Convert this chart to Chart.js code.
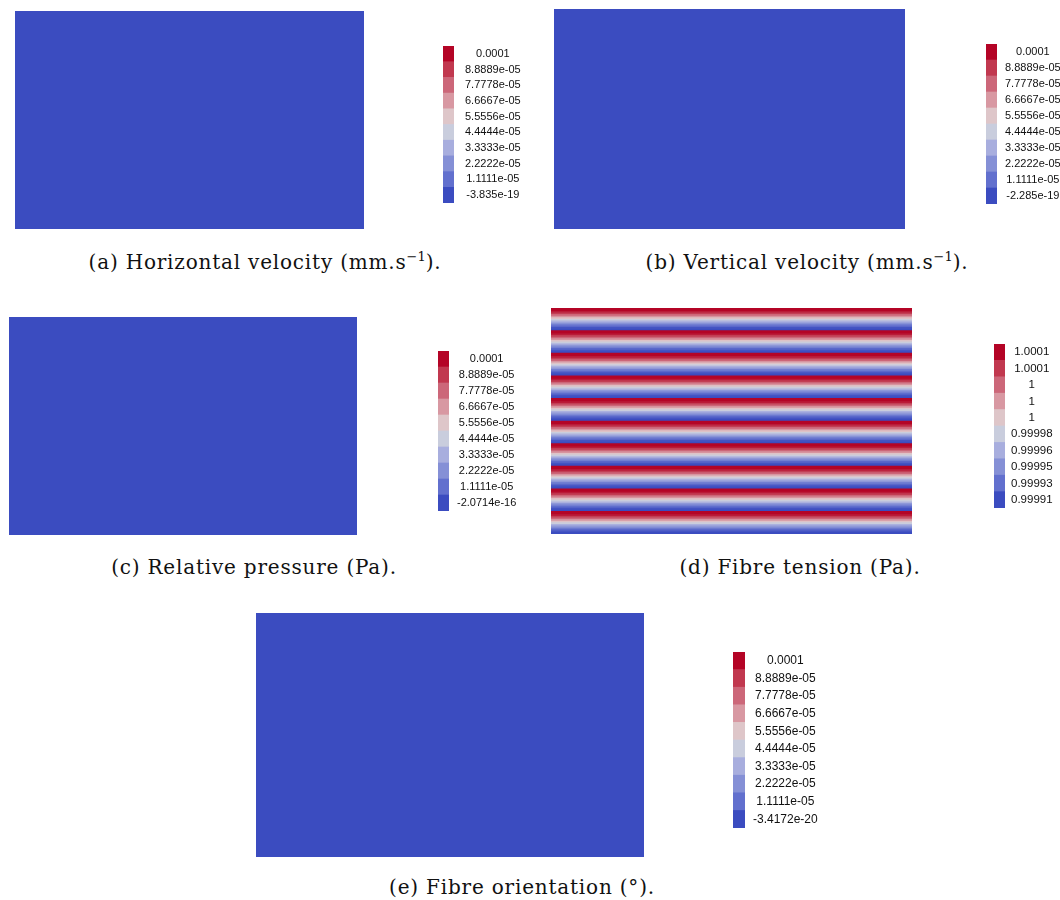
<!DOCTYPE html>
<html>
<head>
<meta charset="utf-8">
<script src="https://cdn.jsdelivr.net/npm/chart.js@4.4.1/dist/chart.umd.min.js"></script>
<style>
  html, body { margin: 0; padding: 0; background: #fff; overflow: hidden; }
  #page { position: relative; width: 1060px; height: 900px; background: #fff; }
  canvas { position: absolute; }
  .caption {
    position: absolute;
    transform: translateX(-50%);
    white-space: nowrap;
    font-family: "DejaVu Serif", "Liberation Serif", serif;
    font-size: 20px;
    letter-spacing: 0.8px;
    line-height: 24px;
    color: #111;
  }
  .caption sup { font-size: 13px; vertical-align: 8px; line-height: 0; letter-spacing: 0; }
</style>
</head>
<body>
<div id="page">
  <canvas id="fieldA" width="349" height="218" style="left:15px;top:11px"></canvas>
  <canvas id="barA" width="90" height="157" style="left:443px;top:46px"></canvas>
  <div class="caption" style="left:265px;top:250px">(a) Horizontal velocity (mm.s<sup>−1</sup>).</div>

  <canvas id="fieldB" width="351" height="220" style="left:554px;top:9px"></canvas>
  <canvas id="barB" width="74" height="160" style="left:986px;top:44px"></canvas>
  <div class="caption" style="left:807px;top:250px">(b) Vertical velocity (mm.s<sup>−1</sup>).</div>

  <canvas id="fieldC" width="348" height="218" style="left:9px;top:317px"></canvas>
  <canvas id="barC" width="90" height="160" style="left:438px;top:351px"></canvas>
  <div class="caption" style="left:254px;top:555px">(c) Relative pressure (Pa).</div>

  <canvas id="fieldD" width="361" height="226" style="left:551px;top:308px"></canvas>
  <canvas id="barD" width="66" height="164" style="left:994px;top:344px"></canvas>
  <div class="caption" style="left:800px;top:555px">(d) Fibre tension (Pa).</div>

  <canvas id="fieldE" width="388" height="244" style="left:256px;top:613px"></canvas>
  <canvas id="barE" width="100" height="176" style="left:733px;top:652px"></canvas>
  <div class="caption" style="left:522px;top:875px">(e) Fibre orientation (°).</div>
</div>
<script>
// field values, one entry per row of the domain (top row first)
const horizontalVelocity = [-3.835e-19];
const verticalVelocity = [-2.285e-19];
const relativePressure = [-2.0714e-16];
const fibreOrientation = [-3.4172e-20];

// fibre tension: red at the top of each band, fading to blue at its bottom
const fibreTension = [
  1.00007, 1.00007, 1.000062, 1.00005, 1.000035, 1.000018, 1.0, 0.999982, 0.999965, 0.99995, 0.999936, 0.999924, 0.999914, 0.99991,
  1.00007, 1.00007, 1.000062, 1.00005, 1.000035, 1.000018, 1.0, 0.999982, 0.999965, 0.99995, 0.999936, 0.999924, 0.999914, 0.99991,
  1.00007, 1.00007, 1.000062, 1.00005, 1.000035, 1.000018, 1.0, 0.999982, 0.999965, 0.99995, 0.999936, 0.999924, 0.999914, 0.99991,
  1.00007, 1.00007, 1.000062, 1.00005, 1.000035, 1.000018, 1.0, 0.999982, 0.999965, 0.99995, 0.999936, 0.999924, 0.999914, 0.99991,
  1.00007, 1.00007, 1.000062, 1.00005, 1.000035, 1.000018, 1.0, 0.999982, 0.999965, 0.99995, 0.999936, 0.999924, 0.999914, 0.99991,
  1.00007, 1.00007, 1.000062, 1.00005, 1.000035, 1.000018, 1.0, 0.999982, 0.999965, 0.99995, 0.999936, 0.999924, 0.999914, 0.99991,
  1.00007, 1.00007, 1.000062, 1.00005, 1.000035, 1.000018, 1.0, 0.999982, 0.999965, 0.99995, 0.999936, 0.999924, 0.999914, 0.99991,
  1.00007, 1.00007, 1.000062, 1.00005, 1.000035, 1.000018, 1.0, 0.999982, 0.999965, 0.99995, 0.999936, 0.999924, 0.999914, 0.99991,
  1.00007, 1.00007, 1.000062, 1.00005, 1.000035, 1.000018, 1.0, 0.999982, 0.999965, 0.99995, 0.999936, 0.999924, 0.999914, 0.99991,
  1.00007, 1.00007, 1.000062, 1.00005, 1.000035, 1.000018, 1.0, 0.999982, 0.999965, 0.99995, 0.999936, 0.999924, 0.999914, 0.99991
];

// colour ranges [min, max]
const rangeA = [-3.835e-19, 0.0001];
const rangeB = [-2.285e-19, 0.0001];
const rangeC = [-2.0714e-16, 0.0001];
const rangeD = [0.99991, 1.00007];
const rangeE = [-3.4172e-20, 0.0001];

// colour bar labels (top to bottom)
const ticksA = ['0.0001', '8.8889e-05', '7.7778e-05', '6.6667e-05', '5.5556e-05', '4.4444e-05', '3.3333e-05', '2.2222e-05', '1.1111e-05', '-3.835e-19'];
const ticksB = ['0.0001', '8.8889e-05', '7.7778e-05', '6.6667e-05', '5.5556e-05', '4.4444e-05', '3.3333e-05', '2.2222e-05', '1.1111e-05', '-2.285e-19'];
const ticksC = ['0.0001', '8.8889e-05', '7.7778e-05', '6.6667e-05', '5.5556e-05', '4.4444e-05', '3.3333e-05', '2.2222e-05', '1.1111e-05', '-2.0714e-16'];
const ticksD = ['1.0001', '1.0001', '1', '1', '1', '0.99998', '0.99996', '0.99995', '0.99993', '0.99991'];
const ticksE = ['0.0001', '8.8889e-05', '7.7778e-05', '6.6667e-05', '5.5556e-05', '4.4444e-05', '3.3333e-05', '2.2222e-05', '1.1111e-05', '-3.4172e-20'];

// cool to warm, low -> high
const palette = [
  [59, 76, 192], [98, 112, 206], [133, 144, 214], [168, 174, 222], [201, 205, 221],
  [222, 198, 201], [216, 152, 162], [204, 103, 121], [193, 56, 79], [180, 4, 38]
];

function colourFor(v, range) {
  let t = (v - range[0]) / (range[1] - range[0]);
  t = Math.min(1, Math.max(0, t)) * (palette.length - 1);
  const i = Math.min(palette.length - 2, Math.floor(t));
  const f = t - i;
  const a = palette[i], b = palette[i + 1];
  const c = a.map((x, k) => Math.round(x + (b[k] - x) * f));
  return 'rgb(' + c.join(',') + ')';
}

const domainX = [0, 1]; // normalised width of the domain

function drawField(id, rows, range) {
  new Chart(document.getElementById(id), {
    type: 'bar',
    data: {
      labels: rows.map((_, i) => i),
      datasets: [{
        data: rows.map(() => domainX),
        backgroundColor: rows.map(v => colourFor(v, range)),
        borderWidth: 0,
        barPercentage: 1,
        categoryPercentage: 1
      }]
    },
    options: {
      indexAxis: 'y',
      responsive: false,
      animation: false,
      layout: { padding: 0 },
      plugins: { legend: { display: false }, tooltip: { enabled: false } },
      scales: {
        x: { display: false, min: domainX[0], max: domainX[1] },
        y: { display: false }
      }
    }
  });
}

function drawColourBar(id, labels, barWidth, pad, fontSize) {
  const canvas = document.getElementById(id);
  const axisWidth = canvas.width - barWidth;
  new Chart(canvas, {
    type: 'bar',
    data: {
      labels: labels,
      datasets: [{
        data: labels.map(() => 1),
        backgroundColor: palette.slice().reverse().map(c => 'rgb(' + c.join(',') + ')'),
        borderWidth: 0,
        barPercentage: 1,
        categoryPercentage: 1
      }]
    },
    options: {
      indexAxis: 'y',
      responsive: false,
      animation: false,
      layout: { padding: 0 },
      plugins: { legend: { display: false }, tooltip: { enabled: false } },
      scales: {
        x: { display: false, min: 0, max: 1 },
        y: {
          position: 'right',
          grid: { display: false, drawTicks: false },
          border: { display: false },
          ticks: {
            autoSkip: false,
            padding: pad,
            crossAlign: 'center',
            color: '#111',
            font: { family: '"Liberation Sans", Arial, sans-serif', size: fontSize }
          },
          afterFit(scale) {
            scale.width = axisWidth;
            scale.paddingTop = 0;
            scale.paddingBottom = 0;
          }
        }
      }
    }
  });
}

drawField('fieldA', horizontalVelocity, rangeA);
drawField('fieldB', verticalVelocity, rangeB);
drawField('fieldC', relativePressure, rangeC);
drawField('fieldD', fibreTension, rangeD);
drawField('fieldE', fibreOrientation, rangeE);

drawColourBar('barA', ticksA, 11, 11, 11);
drawColourBar('barB', ticksB, 11, 8, 11);
drawColourBar('barC', ticksC, 11, 8, 11);
drawColourBar('barD', ticksD, 11, 6, 11.5);
drawColourBar('barE', ticksE, 12, 8, 12);
</script>
</body>
</html>
